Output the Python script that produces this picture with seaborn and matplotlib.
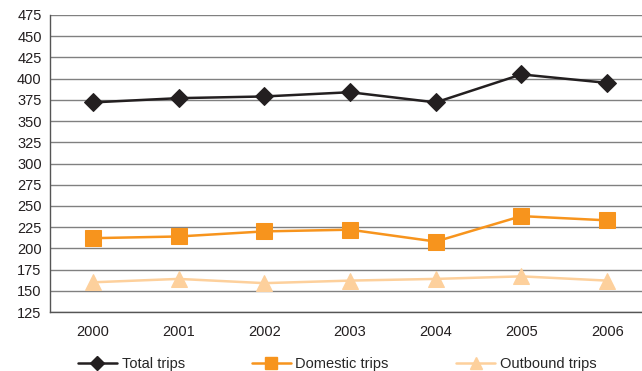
import matplotlib
matplotlib.use("Agg")
import matplotlib.pyplot as plt
import seaborn as sns
import pandas as pd
from matplotlib.lines import Line2D

years = ["2000", "2001", "2002", "2003", "2004", "2005", "2006"]
total_trips = [372, 377, 379, 384, 372, 405, 395]
domestic_trips = [212, 214, 220, 222, 208, 238, 233]
outbound_trips = [160, 164, 159, 162, 164, 167, 162]
series_names = ["Total trips", "Domestic trips", "Outbound trips"]
y_ticks = list(range(125, 476, 25))

sns.set_theme(style="white")
plt.rcParams["font.family"] = ["Liberation Sans", "DejaVu Sans"]

df = pd.DataFrame({
    "year": years * 3,
    "trips": total_trips + domestic_trips + outbound_trips,
    "series": [series_names[0]] * 7 + [series_names[1]] * 7 + [series_names[2]] * 7,
})

colors = {"Total trips": "#231f20", "Domestic trips": "#f7941d", "Outbound trips": "#fdd09c"}
markers = {"Total trips": "D", "Domestic trips": "s", "Outbound trips": "^"}
sizes = {"Total trips": 9, "Domestic trips": 11, "Outbound trips": 12}

fig = plt.figure(figsize=(6.42, 3.71), dpi=100)
ax = fig.add_axes([50 / 642, (371 - 312) / 371, 600 / 642, 297 / 371])

for name in series_names:
    sub = df[df["series"] == name]
    sns.lineplot(data=sub, x="year", y="trips", ax=ax, color=colors[name],
                 marker=markers[name], markersize=sizes[name],
                 markeredgecolor=colors[name], linewidth=1.8, legend=False,
                 zorder=3 if name == "Total trips" else 2)

ax.set_xlim(-0.5, 6.5)
ax.set_ylim(125, 475)
ax.set_yticks(y_ticks)
ax.set_xticks(range(len(years)))
ax.set_xticklabels(years)
ax.set_xticks([i + 0.5 for i in range(-1, len(years))], minor=True)
ax.tick_params(axis="x", which="major", length=0, pad=9, labelsize=10.5, colors="#231f20")
ax.tick_params(axis="x", which="minor", length=5, width=1, color="#555555", direction="out")
ax.tick_params(axis="y", length=4, width=1, color="#555555", direction="out",
               labelsize=10.5, pad=2, labelcolor="#231f20")
ax.set_xlabel("")
ax.set_ylabel("")

ax.yaxis.grid(True, color="#808080", linewidth=1)
ax.set_axisbelow(True)
for side in ["top", "right"]:
    ax.spines[side].set_visible(False)
for side in ["left", "bottom"]:
    ax.spines[side].set_color("#555555")
    ax.spines[side].set_linewidth(1)

handles = [Line2D([0], [0], color=colors[n], marker=markers[n], markersize=sizes[n] * 0.75,
                  markeredgecolor=colors[n], linewidth=1.8) for n in series_names]
fig.legend(handles, series_names, loc="center", bbox_to_anchor=(0.525, 7 / 371),
           ncol=3, frameon=False, fontsize=10.5, handlelength=2.7, columnspacing=4.6,
           handletextpad=0.3, borderaxespad=0)

fig.savefig("out.png", dpi=100)
